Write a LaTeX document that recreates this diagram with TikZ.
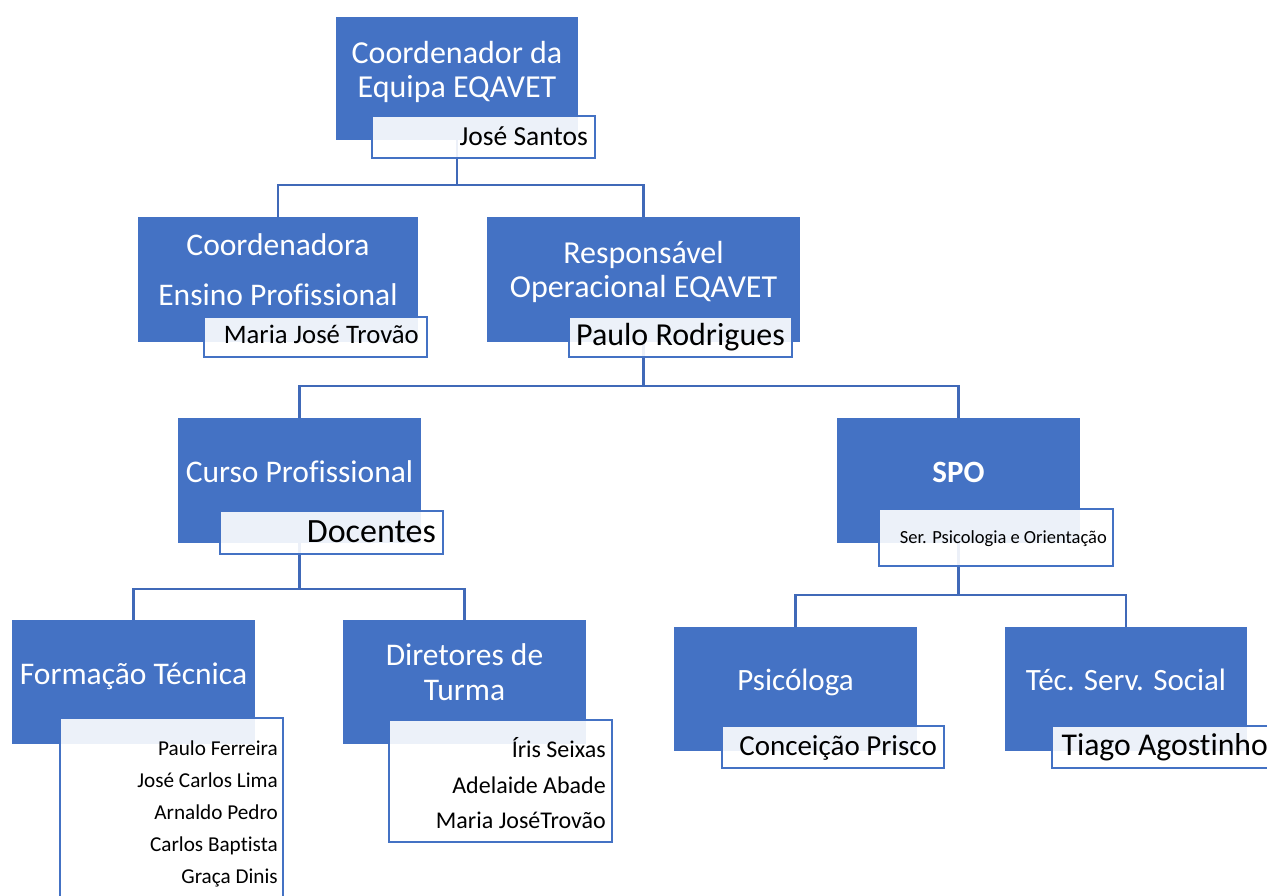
\documentclass[tikz,border=0pt]{standalone}
\usepackage{fontspec}
\setmainfont{Carlito}[RawFeature={-liga;-clig;-dlig}]
\definecolor{accent}{HTML}{4472C4}
\definecolor{connc}{HTML}{4069B8}
\begin{document}
\begin{tikzpicture}[x=1pt,y=-1pt,
  bluebox/.style={fill=accent, draw=none, anchor=north west, inner sep=0pt, outer sep=0pt},
  labelbox/.style={fill=white, fill opacity=0.9, draw=accent, line width=1.8pt, anchor=north west, inner sep=0pt, outer sep=0pt},
  conn/.style={draw=connc, line width=2.2pt},
  dims/.style n args={2}{minimum width=#1pt, minimum height=#2pt},
  title/.style={text=white, anchor=base, inner sep=0pt, font=\fontsize{#1}{#1}\selectfont},
  title/.default=31.5,
  person/.style={text=black, anchor=base east, inner sep=0pt, font=\fontsize{#1}{#1}\selectfont},
  person/.default=26,
]
\useasboundingbox (0,0) rectangle (1267,895);

% blue boxes
\node[bluebox, dims={242}{123}] (b1) at (336,17) {};
\node[bluebox, dims={280}{125}] (b2) at (138,217) {};
\node[bluebox, dims={313}{125}] (b3) at (487,217) {};
\node[bluebox, dims={243}{125}] (b4) at (178,418) {};
\node[bluebox, dims={243}{125}] (b5) at (837,418) {};
\node[bluebox, dims={243}{124}] (b6) at (12,620) {};
\node[bluebox, dims={243}{124}] (b7) at (343,620) {};
\node[bluebox, dims={243}{124}] (b8) at (674,627) {};
\node[bluebox, dims={242}{124}] (b9) at (1005,627) {};

% junctions
\coordinate (j1) at (b1.south |- 0,185);
\coordinate (j2) at (b3.south |- 0,386);
\coordinate (j3) at (b4.south |- 0,589);
\coordinate (j4) at (b5.south |- 0,595);

% connectors
\draw[conn] (b1.south) -- (j1);
\draw[conn] (j1) -| (b2.north);
\draw[conn] (j1) -| (b3.north);
\draw[conn] (b3.south) -- (j2);
\draw[conn] (j2) -| (b4.north);
\draw[conn] (j2) -| (b5.north);
\draw[conn] (b4.south) -- (j3);
\draw[conn] (j3) -| (b6.north);
\draw[conn] (j3) -| (b7.north);
\draw[conn] (b5.south) -- (j4);
\draw[conn] (j4) -| (b8.north);
\draw[conn] (j4) -| (b9.north);

% label boxes
\node[labelbox, dims={223}{42}] (l1) at (372,116) {};
\node[labelbox, dims={223}{40}] (l2) at (204,317) {};
\node[labelbox, dims={223}{40}] (l3) at (569,317) {};
\node[labelbox, dims={223}{43}] (l4) at (220,511) {};
\node[labelbox, dims={234}{57}] (l5) at (879,509) {};
\node[labelbox, dims={223}{200}] (l6) at (60,718) {};
\node[labelbox, dims={223}{122}] (l7) at (389,720) {};
\node[labelbox, dims={222}{42}] (l8) at (722,726) {};
\node[labelbox, dims={223}{42}] (l9) at (1052,726) {};

% titles
\node[title=32] (t1a) at (457,63) {Coordenador da};
\node[title=32] (t1b) at (457,97) {Equipa EQAVET};
\node[title] (t2a) at (278,255) {Coordenadora};
\node[title] (t2b) at (278,305) {Ensino Profissional};
\node[title=32] (t3a) at (643.5,263) {Responsável};
\node[title=32] (t3b) at (643.5,297) {Operacional EQAVET};
\node[title] (t4) at (299.5,482) {Curso Profissional};
\node[title=31] (t5) at (958.5,482) {\bfseries SPO};
\node[title] (t6) at (133.5,684) {Formação Técnica};
\node[title] (t7a) at (464.5,665) {Diretores de};
\node[title] (t7b) at (464.5,700) {Turma};
\node[title=31] (t8) at (795.5,690) {Psicóloga};
\node[title=31] (t9) at (1126,690) {Téc. Serv. Social};

% names
\node[person=27.5] (n1) at (588,145) {José Santos};
\node[person=26.7] (n2) at (419,343) {Maria José Trovão};
\node[person=32] (n3) at (785,345) {Paulo Rodrigues};
\node[person=34] (n4) at (436,542) {Docentes};
\node[person=18.5] (n5) at (1107,543) {Ser. Psicologia e Orientação};
\node[person=21.2] (n6a) at (278,755) {Paulo Ferreira};
\node[person=21.2] (n6b) at (278,787) {José Carlos Lima};
\node[person=21.2] (n6c) at (278,819) {Arnaldo Pedro};
\node[person=21.2] (n6d) at (278,851) {Carlos Baptista};
\node[person=21.2] (n6e) at (278,883) {Graça Dinis};
\node[person=24] (n7a) at (606,757) {Íris Seixas};
\node[person=24] (n7b) at (606,793) {Adelaide Abade};
\node[person=24] (n7c) at (606,828) {Maria JoséTrovão};
\node[person=29] (n8) at (937,755) {Conceição Prisco};
\node[person=31.7] (n9) at (1268,755) {Tiago Agostinho};
\end{tikzpicture}
\end{document}
